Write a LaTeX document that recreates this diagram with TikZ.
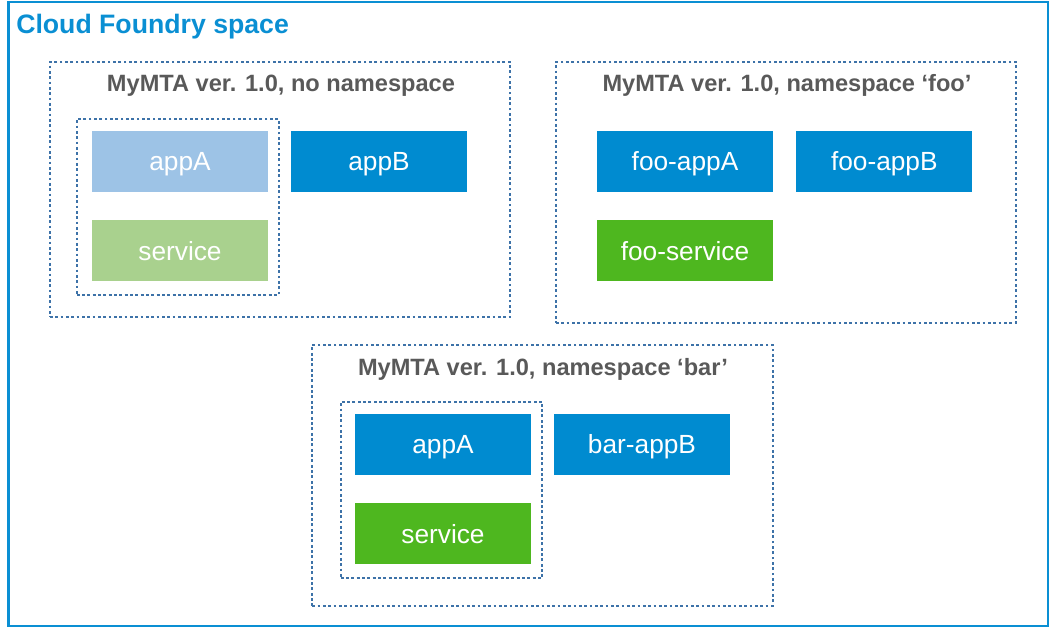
\documentclass[tikz,border=0pt]{standalone}
\usepackage{fontspec}
\setmainfont{Liberation Sans}
\definecolor{cfblue}{HTML}{0A8FD3}
\definecolor{appblue}{HTML}{008BD0}
\definecolor{lightblue}{HTML}{9DC3E6}
\definecolor{lightgreen}{HTML}{A9D18E}
\definecolor{svcgreen}{HTML}{4EB71F}
\definecolor{dotcol}{HTML}{3D72A8}
\definecolor{titlegray}{HTML}{595959}
\tikzset{
  appbox/.style={rectangle, inner sep=0pt, minimum width=176*0.75pt, minimum height=61*0.75pt,
    text=white, font=\fontsize{19.7}{22}\selectfont, text height=14.1pt, text depth=0pt},
  frame/.style={rectangle, draw=dotcol, line width=1.7pt, dash pattern=on 2.1pt off 1.9pt, inner sep=0pt},
  frametitle/.style={anchor=base, text=titlegray, font=\fontsize{17.7}{20}\selectfont\bfseries, inner sep=0pt},
}
\begin{document}
\begin{tikzpicture}[x=0.75pt,y=-0.75pt]
\useasboundingbox (0,0) rectangle (1050,627);
% outer frame
\node[rectangle, draw=cfblue, line width=1.75pt, inner sep=0pt, minimum width=1039.8*0.75pt, minimum height=623.5*0.75pt] (outer) at (528.4,314) {};
\node[anchor=base west, inner sep=0pt, text=cfblue, font=\fontsize{20}{24}\selectfont\bfseries] (cftitle) at (16,34) {Cloud Foundry space};
% MTA 1
\node[frame, minimum width=460*0.75pt, minimum height=255*0.75pt] (m1) at (280,189.5) {};
\node[frametitle] (m1t) at (281,91.7) {MyMTA ver. 1.0, no namespace};
\node[frame, minimum width=202*0.75pt, minimum height=176*0.75pt] (m1in) at (177.7,207) {};
\node[appbox, fill=lightblue] (m1a) at (180,161.2) {appA};
\node[appbox, fill=lightgreen] (m1s) at (180,250.8) {service};
\node[appbox, fill=appblue] (m1b) at (379,161.2) {appB};
% MTA foo
\node[frame, minimum width=460*0.75pt, minimum height=260.7*0.75pt] (m2) at (786,192.3) {};
\node[frametitle] (m2t) at (787,91.7) {MyMTA ver. 1.0, namespace ‘foo’};
\node[appbox, fill=appblue] (m2a) at (685,161.2) {foo-appA};
\node[appbox, fill=appblue] (m2b) at (884.3,161.2) {foo-appB};
\node[appbox, fill=svcgreen] (m2s) at (685,250.8) {foo-service};
% MTA bar
\node[frame, minimum width=460.4*0.75pt, minimum height=260.7*0.75pt] (m3) at (542.5,475.3) {};
\node[frametitle] (m3t) at (543,375) {MyMTA ver. 1.0, namespace ‘bar’};
\node[frame, minimum width=201.6*0.75pt, minimum height=176.6*0.75pt] (m3in) at (441.5,490) {};
\node[appbox, fill=appblue] (m3a) at (443,444.3) {appA};
\node[appbox, fill=svcgreen] (m3s) at (443,533.9) {service};
\node[appbox, fill=appblue] (m3b) at (642,444.3) {bar-appB};
\end{tikzpicture}
\end{document}
